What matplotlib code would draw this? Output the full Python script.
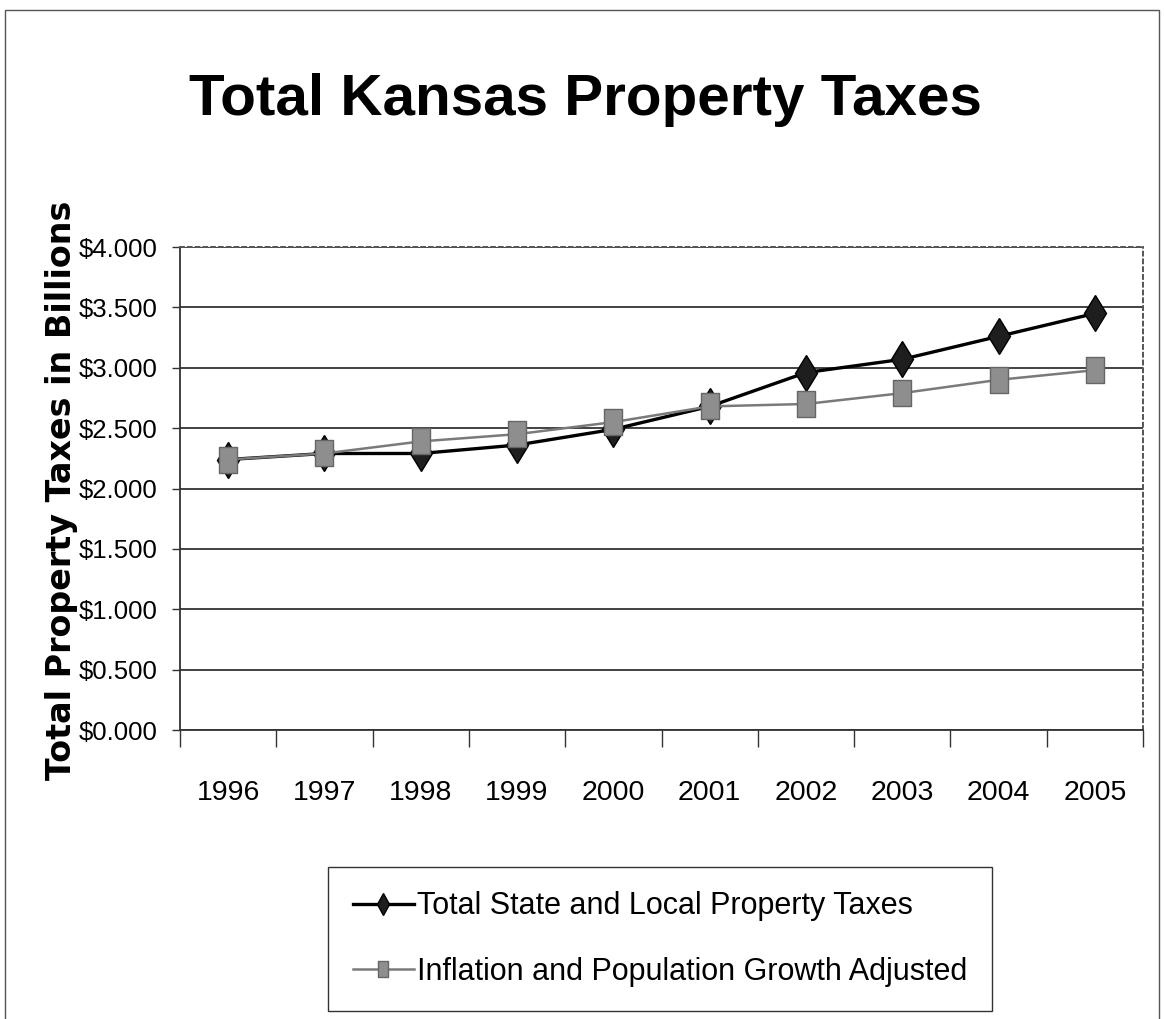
import matplotlib.pyplot as plt
from matplotlib.patches import Rectangle
from matplotlib.path import Path
from matplotlib.ticker import FuncFormatter

years = ['1996', '1997', '1998', '1999', '2000', '2001', '2002', '2003', '2004', '2005']
total_taxes = [2.24, 2.29, 2.29, 2.36, 2.49, 2.68, 2.96, 3.07, 3.26, 3.45]
adjusted = [2.24, 2.29, 2.39, 2.45, 2.55, 2.68, 2.70, 2.79, 2.90, 2.98]
y_ticks = [0.0, 0.5, 1.0, 1.5, 2.0, 2.5, 3.0, 3.5, 4.0]

sans = ['Liberation Sans', 'DejaVu Sans']

# tall rectangle for the adjusted series
tall_box = Path([(-0.34, -0.5), (0.34, -0.5), (0.34, 0.5), (-0.34, 0.5), (-0.34, -0.5)],
                [Path.MOVETO, Path.LINETO, Path.LINETO, Path.LINETO, Path.CLOSEPOLY])

fig = plt.figure(figsize=(11.64, 10.19), dpi=100)
ax = fig.add_axes([0.1546, 0.2836, 0.8274, 0.474])

x = list(range(len(years)))
ax.plot(x, total_taxes, color='black', lw=2.4, marker='d', ms=18,
        mfc='#1e1e1e', mec='black', label='Total State and Local Property Taxes', zorder=3)
ax.plot(x, adjusted, color='#7a7a7a', lw=1.8, marker=tall_box, ms=19,
        mfc='#8e8e8e', mec='#666666', mew=1.0,
        label='Inflation and Population Growth Adjusted', zorder=4)

ax.set_xlim(-0.5, len(years) - 0.5)
ax.set_ylim(0, 4)
ax.set_yticks(y_ticks)
ax.yaxis.set_major_formatter(FuncFormatter(lambda v, p: '${:.3f}'.format(v)))
ax.grid(axis='y', color='#333333', lw=1.3)
ax.set_axisbelow(True)

# categories sit between the tick marks
ax.set_xticks(x)
ax.set_xticklabels(years)
ax.set_xticks([i - 0.5 for i in range(len(years) + 1)], minor=True)
ax.tick_params(axis='x', which='major', length=0, pad=36)
ax.tick_params(axis='x', which='minor', length=12, width=1, color='#333333')
ax.tick_params(axis='y', length=6, width=1, pad=10, color='#333333')
for lab in ax.get_xticklabels():
    lab.set_family(sans)
    lab.set_fontsize(20.5)
for lab in ax.get_yticklabels():
    lab.set_family(sans)
    lab.set_fontsize(18.5)

for side in ['top', 'right']:
    ax.spines[side].set_linestyle((0, (2, 2)))
    ax.spines[side].set_color('#555555')
    ax.spines[side].set_linewidth(1.4)
for side in ['left', 'bottom']:
    ax.spines[side].set_color('#333333')
    ax.spines[side].set_linewidth(1.3)

fig.text(0.503, 0.902, 'Total Kansas Property Taxes', ha='center', va='center',
         fontsize=42, fontweight='bold', family=sans)
fig.text(0.053, 0.519, 'Total Property Taxes in Billions', rotation=90,
         ha='center', va='center', fontsize=24, fontweight='bold', family='DejaVu Sans')

leg = fig.legend(loc='center', bbox_to_anchor=(0.288, 0.007, 0.558, 0.143),
                 prop={'family': sans, 'size': 22}, frameon=True, fancybox=False,
                 edgecolor='black', handlelength=2.0, handletextpad=0.1,
                 borderpad=0.8, labelspacing=1.15, markerscale=0.6)
leg.get_frame().set_linewidth(1.0)

fig.patches.append(Rectangle((0.004, -0.01), 0.992, 1.0, transform=fig.transFigure,
                             fill=False, edgecolor='#555555', lw=1.0))

fig.savefig('out.png', dpi=100)
